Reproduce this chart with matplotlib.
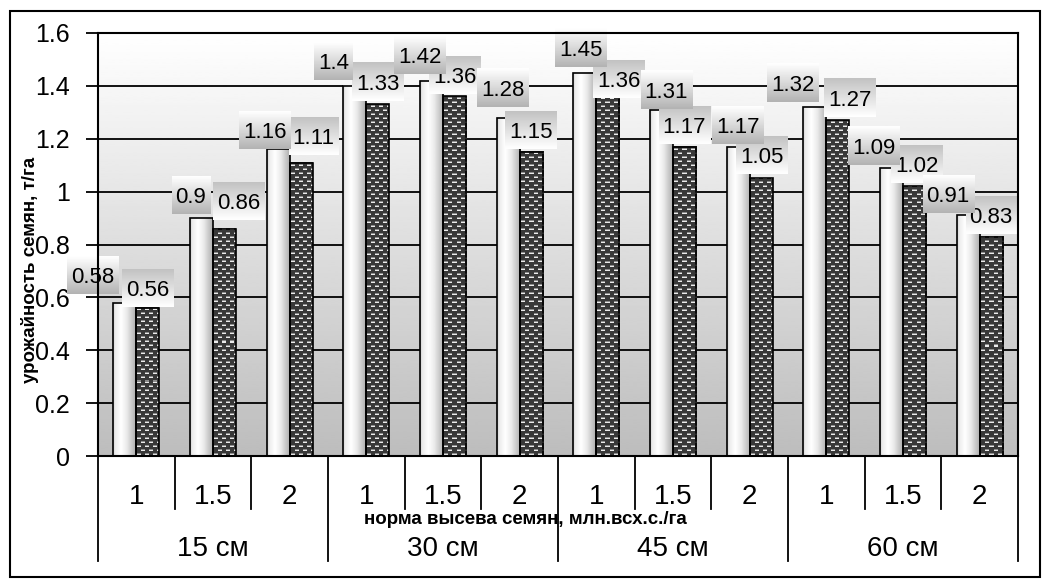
import numpy as np
import matplotlib
matplotlib.use('Agg')
import matplotlib.pyplot as plt
from matplotlib.patches import Rectangle

plt.rcParams['font.family'] = ['Liberation Sans', 'DejaVu Sans']

# ---------------- data ----------------
spacings = ['15 см', '30 см', '45 см', '60 см']
rates = ['1', '1.5', '2']
series_a = [0.58, 0.90, 1.16, 1.40, 1.42, 1.28, 1.45, 1.31, 1.17, 1.32, 1.09, 0.91]
series_b = [0.56, 0.86, 1.11, 1.33, 1.36, 1.15, 1.36, 1.17, 1.05, 1.27, 1.02, 0.83]
y_ticks = [0, 0.2, 0.4, 0.6, 0.8, 1.0, 1.2, 1.4, 1.6]
y_tick_labels = ['0', '0.2', '0.4', '0.6', '0.8', '1', '1.2', '1.4', '1.6']
ylabel = 'урожайность семян, т/га'
xlabel = 'норма высева семян, млн.всх.с./га'

# label placement tweaks (pixels: dx right, dy up from bar top)
offs_a = [(-32, 28), (-10.5, 23.5), (-13.5, 19), (-21, 24.5), (-11.5, 25.6), (-5, 29.6),
          (-4, 25), (5, 20), (0, 22), (-22, 24.5), (-18, 22), (-20, 21)]
offs_b = [(0, 20), (14.5, 27.6), (12.5, 27), (0, 22), (0.5, 21), (0, 22),
          (11, 17), (0, 22), (1, 23), (12, 22.7), (2.5, 22), (0, 21.5)]

W_PX, H_PX = 1048, 581
fig = plt.figure(figsize=(W_PX / 100, H_PX / 100), dpi=100)
AX_L, AX_R, AX_T, AX_B = 98, 1018, 33, 456
ax = fig.add_axes([AX_L / W_PX, 1 - AX_B / H_PX, (AX_R - AX_L) / W_PX, (AX_B - AX_T) / H_PX])
ax.set_autoscale_on(False)

n = len(series_a)
ax.set_xlim(0, n)
ax.set_ylim(0, 1.6)

# background gradient
bg = np.linspace(0.74, 1.0, 256).reshape(-1, 1)
ax.imshow(bg, extent=[0, n, 0, 1.6], origin='lower', cmap='gray', vmin=0, vmax=1,
          aspect='auto', zorder=0, interpolation='bilinear')

# gridlines
ax.hlines(y_ticks, 0, n, colors='black', linewidth=1.3, zorder=1)

bw = 0.3
xc = np.arange(n) + 0.5
xa = xc - bw / 2
xb = xc + bw / 2

px_per_x = (AX_R - AX_L) / n
px_per_y = (AX_B - AX_T) / 1.6

# white cylinder bars
gx = np.linspace(0, 1, 64)
wgrad = np.interp(gx, [0, 0.08, 0.35, 0.6, 1.0], [0.78, 0.92, 1.0, 0.92, 0.68]).reshape(1, -1)
for x, v in zip(xa, series_a):
    ax.imshow(wgrad, extent=[x - bw / 2, x + bw / 2, 0, v], origin='lower', cmap='gray',
              vmin=0, vmax=1, aspect='auto', zorder=2, interpolation='bilinear')
ax.bar(xa, series_a, width=bw, facecolor='none', edgecolor='black', linewidth=1.2, zorder=3)


def dark_texture(h, w):
    H = max(int(round(h)), 1)
    Wd = max(int(round(w)), 1)
    yy, xx = np.mgrid[0:H, 0:Wd]
    tex = np.full((H, Wd), 0.22)
    row = yy % 8
    m1 = (row == 1) & ((xx % 8) >= 1) & ((xx % 8) < 5)
    m2 = (row == 5) & (((xx + 4) % 8) >= 1) & (((xx + 4) % 8) < 5)
    m1b = (row == 2) & ((xx % 8) >= 1) & ((xx % 8) < 5)
    m2b = (row == 6) & (((xx + 4) % 8) >= 1) & (((xx + 4) % 8) < 5)
    tex[m1b | m2b] = 0.55
    tex[m1 | m2] = 0.92
    return tex


for x, v in zip(xb, series_b):
    tex = dark_texture(v * px_per_y, bw * px_per_x)
    ax.imshow(tex, extent=[x - bw / 2, x + bw / 2, 0, v], origin='lower', cmap='gray',
              vmin=0, vmax=1, aspect='auto', zorder=2, interpolation='nearest')
ax.bar(xb, series_b, width=bw, facecolor='none', edgecolor='black', linewidth=1.2, zorder=3)

# data labels
texts = []
for xs, vals, offs, zt, top, bot in [(xb, series_b, offs_b, 5, 0.76, 1.0),
                                    (xa, series_a, offs_a, 7, 1.0, 0.70)]:
    for x, v, (dx, dy) in zip(xs, vals, offs):
        t = ax.annotate(f'{v:g}', xy=(x, v), xytext=(dx, dy), textcoords='offset pixels',
                        ha='center', va='center_baseline', fontsize=16, color='black',
                        zorder=zt, annotation_clip=False)
        texts.append((t, x, v, dx, dy, zt, top, bot))

# axis styling
for s in ax.spines.values():
    s.set_linewidth(1.5)
    s.set_color('black')
    s.set_zorder(8)
ax.set_yticks(y_ticks)
ax.set_yticklabels(y_tick_labels, fontsize=18)
ax.tick_params(axis='y', length=9, width=1.3, pad=11.5, direction='out')
ax.set_xticks([])

# category axis (two level)
xt = ax.get_xaxis_transform()
ah = AX_B - AX_T
inner_y = -(509 - AX_B) / ah
outer_y = -(561 - AX_B) / ah
for i in range(n + 1):
    yb = outer_y if i % 3 == 0 else inner_y
    ax.plot([i, i], [0, yb], transform=xt, color='black', lw=1.3, clip_on=False, zorder=8)
for i in range(n):
    ax.text(i + 0.5, -(494.5 - AX_B) / ah, rates[i % 3], transform=xt, ha='center',
            va='center_baseline', fontsize=20)
for g, s in enumerate(spacings):
    ax.text(g * 3 + 1.5, -(546 - AX_B) / ah, s, transform=xt, ha='center',
            va='center_baseline', fontsize=20)

fig.text(525 / W_PX, 1 - 523.5 / H_PX, xlabel, ha='center', va='baseline',
         fontsize=13.5, fontweight='bold')
fig.text(30 / W_PX, 1 - 270 / H_PX, ylabel, ha='center', va='center', rotation=90,
         fontsize=13.5, fontweight='bold')

# outer border
fig.patches.append(Rectangle((10 / W_PX, 1 - 577 / H_PX), 1030 / W_PX, 566 / H_PX,
                             transform=fig.transFigure, fill=False, edgecolor='black',
                             linewidth=1.5))

# label boxes
fig.canvas.draw()
renderer = fig.canvas.get_renderer()
inv = ax.transData.inverted()
for t, x, v, dx, dy, zt, top, bot in texts:
    bb = t.get_window_extent(renderer)
    px, py = ax.transData.transform((x, v))
    cx = (bb.x0 + bb.x1) / 2
    cy = py + dy
    w = bb.width + 8
    h = 38
    x0, y0 = inv.transform((cx - w / 2, cy - h / 2))
    x1, y1 = inv.transform((cx + w / 2, cy + h / 2))
    grad = np.linspace(bot, top, 64).reshape(-1, 1)
    ax.imshow(grad, extent=[x0, x1, y0, y1], origin='lower', cmap='gray', vmin=0, vmax=1,
              aspect='auto', zorder=zt - 0.5, clip_on=False, interpolation='bilinear')

ax.set_xlim(0, n)
ax.set_ylim(0, 1.6)
fig.savefig('out.png', dpi=100)
